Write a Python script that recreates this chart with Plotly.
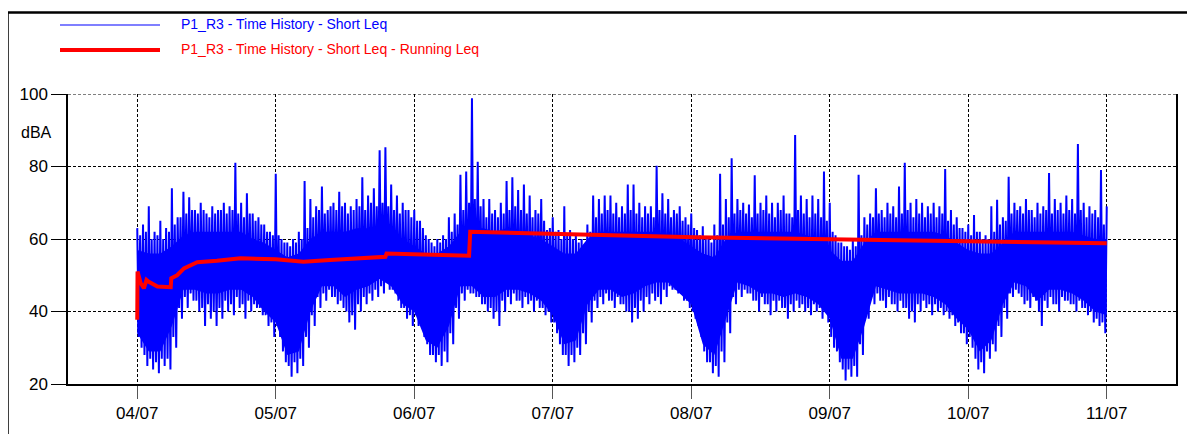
"""Short Leq time history with running Leq (P1_R3)."""
import pandas as pd
import plotly.graph_objects as go

START = pd.Timestamp("2023-07-04")

# hourly upper extents (spikes) of the short Leq trace (dBA), 04/07 00:00 .. 11/07 00:00
up_env = [
    63, 64, 69, 62, 65, 63, 74, 66, 73, 71.5, 68, 70, 67, 69, 68, 70, 69, 81, 70, 72.6, 67, 66, 64, 62,
    78, 60, 59, 60, 62, 76, 71, 69, 74.5, 68, 70, 73, 70, 69, 71, 77, 72, 74, 84.5, 85.3, 75, 72, 70, 68,
    68, 65, 61, 59, 60, 61, 66, 67, 77.7, 78.6, 98.8, 81.3, 71, 71, 68, 70, 76, 77, 73.5, 75, 72, 68, 71, 62.5,
    66, 62.5, 69, 62.5, 61.5, 60, 64, 72, 71, 72, 72, 70, 69, 75, 75, 70, 69, 69, 80.2, 72.6, 71, 68, 69, 66,
    67, 62.5, 63.5, 60.5, 64, 78, 71, 82.3, 71, 70, 69.5, 77.6, 70, 72, 70, 70, 72, 67, 88.7, 72, 71, 72, 71, 78.6,
    70, 61, 59, 58, 60, 77.7, 66, 67, 74, 68, 70, 69, 74.5, 81, 70, 71, 70, 69, 70, 69, 79.3, 68, 66, 63,
    64, 66.6, 62, 61, 69, 70.8, 66, 77.2, 70, 69, 71, 68, 70, 69, 78.2, 71, 70, 72, 71, 86.2, 70, 69, 68, 79,
    69,
]
# hourly lower extents
dn_env = [
    30, 25, 24, 23, 25, 24, 30, 38, 41, 43, 40, 36, 38, 36, 38, 40, 39, 41, 38, 40, 41, 39, 36, 33,
    33, 26, 22, 23, 25, 30, 36, 41, 43, 44, 42, 41, 37, 35, 40, 42, 43, 44, 45, 46, 45, 41, 38, 36,
    36, 33, 28, 26, 25, 26, 31, 38, 43, 45, 44, 42, 40, 38, 36, 40, 42, 43, 41, 42, 40, 41, 39, 37,
    34, 28, 25, 26, 28, 31, 37, 41, 42, 43, 41, 42, 40, 37, 38, 40, 42, 43, 42, 44, 46, 45, 43, 41,
    38, 33, 26, 23, 22, 26, 34, 42, 44, 45, 43, 40, 42, 39, 40, 41, 38, 40, 41, 40, 39, 40, 38, 37,
    30, 26, 21, 22, 22, 28, 38, 42, 43, 41, 42, 40, 41, 38, 37, 40, 41, 39, 40, 39, 38, 36, 34, 31,
    30, 24, 23, 27, 29, 33, 38, 44, 45, 42, 41, 43, 36, 41, 42, 40, 43, 42, 40, 41, 39, 37, 36, 34,
]
# hourly top / bottom of the dense part of the trace
up_dense = [
    61, 62, 60, 61, 60, 62, 64, 66, 67, 68, 67, 68, 66, 67, 68, 67, 68, 67, 66, 67, 65, 64, 62, 61,
    61, 59, 58, 59, 60, 63, 66, 68, 67, 69, 68, 69, 67, 68, 69, 68, 70, 69, 70, 69, 68, 67, 68, 66,
    65, 63, 60, 58, 59, 60, 62, 64, 68, 70, 71, 69, 66, 67, 66, 67, 68, 69, 68, 67, 66, 67, 65, 63,
    62, 60, 61, 60, 59, 58, 62, 66, 67, 68, 67, 66, 67, 68, 67, 66, 67, 66, 68, 67, 66, 67, 65, 64,
    63, 61, 60, 59, 61, 64, 66, 67, 68, 67, 66, 67, 68, 67, 66, 68, 67, 66, 68, 67, 66, 67, 66, 65,
    62, 59, 58, 57, 58, 61, 64, 66, 67, 66, 67, 66, 67, 68, 66, 67, 66, 67, 66, 67, 65, 64, 63, 62,
    61, 62, 60, 60, 62, 64, 65, 67, 68, 67, 68, 66, 67, 68, 67, 68, 67, 68, 67, 68, 66, 67, 66, 64,
]
dn_dense = [
    33, 28, 27, 26, 27, 27, 33, 41, 44, 45, 43, 41, 42, 40, 41, 43, 42, 44, 42, 43, 42, 41, 39, 37,
    36, 29, 25, 26, 27, 33, 39, 44, 45, 46, 44, 43, 40, 39, 42, 44, 45, 46, 47, 48, 46, 43, 41, 39,
    39, 36, 31, 28, 28, 29, 34, 41, 45, 46, 45, 44, 42, 41, 40, 43, 44, 45, 43, 44, 43, 43, 41, 40,
    37, 31, 28, 28, 30, 34, 40, 43, 44, 45, 43, 44, 42, 40, 41, 43, 44, 45, 44, 46, 47, 46, 45, 43,
    40, 36, 29, 26, 25, 29, 37, 44, 46, 46, 45, 43, 44, 42, 43, 43, 41, 42, 43, 42, 41, 42, 41, 40,
    33, 29, 24, 24, 25, 31, 40, 44, 45, 43, 44, 42, 43, 41, 40, 42, 43, 42, 42, 41, 40, 39, 37, 34,
    33, 27, 26, 29, 31, 36, 41, 45, 46, 44, 43, 44, 40, 43, 44, 42, 44, 43, 42, 43, 41, 40, 38, 37,
]
# solid core of the band, every 2 hours
core_hi = [
    57, 56, 56, 58, 61, 62, 62, 62, 62, 62, 60, 59,
    57, 55, 56, 60, 62, 62, 62, 63, 63, 63, 62, 60,
    58, 56, 56, 58, 62, 63, 63, 62, 63, 62, 61, 60,
    58, 56, 56, 60, 62, 62, 62, 62, 62, 62, 61, 60,
    58, 56, 55, 60, 62, 62, 62, 62, 62, 62, 61, 60,
    57, 54, 54, 59, 62, 62, 62, 62, 62, 62, 61, 59,
    57, 56, 56, 59, 62, 62, 62, 62, 62, 62, 61, 60,
    60,
]
core_lo = [
    34, 29, 29, 36, 46, 46, 45, 45, 46, 46, 44, 40,
    37, 28, 29, 40, 47, 47, 44, 46, 47, 49, 47, 42,
    40, 32, 30, 36, 47, 47, 44, 44, 46, 46, 45, 43,
    39, 31, 32, 42, 46, 46, 44, 45, 47, 48, 48, 45,
    42, 31, 28, 38, 48, 47, 45, 45, 44, 45, 44, 42,
    38, 27, 27, 36, 47, 46, 45, 45, 45, 44, 42, 38,
    35, 29, 32, 42, 48, 47, 43, 46, 46, 45, 43, 40,
    39,
]
# running Leq
run_hours = [0, 0.05, 0.6, 1.15, 1.6, 2.0, 3.5, 5.8, 5.9, 6.9, 8.1, 10.4, 13.8, 17.9, 24, 28.8,
             33.4, 39.2, 43.0, 43.2, 49, 57.5, 57.7, 75.3, 96.7, 120, 144, 168]
run_leq = [37.7, 51, 47.8, 46.4, 48.7, 48.2, 46.9, 46.7, 49.2, 50, 51.9, 53.6, 54, 54.7, 54.4, 53.7,
           54.2, 54.7, 55.1, 56, 55.8, 55.4, 62, 61.3, 60.5, 59.9, 59.3, 58.8]

BLUE = "#0000FF"
RED = "#FF0000"


def at(hours):
    return [START + pd.Timedelta(hours=h) for h in hours]


# trace path: spike top at :00, dense bottom at :15, dense top at :30, low extent at :45
zz_h, zz_v = [], []
for i in range(len(dn_env)):
    zz_h += [i, i + 0.25, i + 0.5, i + 0.75]
    zz_v += [up_env[i], dn_dense[i], up_dense[i], dn_env[i]]
zz_h.append(len(dn_env))
zz_v.append(up_env[-1])

core_h = list(range(0, 2 * len(core_hi), 2))

fig = go.Figure()
fig.add_trace(go.Scatter(
    x=at(core_h + core_h[::-1]), y=core_hi + core_lo[::-1],
    fill="toself", fillcolor=BLUE, line=dict(width=0), mode="lines",
    showlegend=False, hoverinfo="skip",
))
fig.add_trace(go.Scatter(
    x=at(zz_h), y=zz_v, mode="lines", line=dict(color=BLUE, width=2),
    name="P1_R3 - Time History - Short Leq", showlegend=False,
))
fig.add_trace(go.Scatter(
    x=at(run_hours), y=run_leq, mode="lines", line=dict(color=RED, width=4),
    name="P1_R3 - Time History - Short Leq - Running Leq", showlegend=False,
))

# page body adds an 8px offset, margins are set so the plot lands where the reference has it
W, H = 1195, 434
ML, MR, MT, MB = 60, 27, 86, 58
pw, ph = W - ML - MR, H - MT - MB
OFF = 8


def px(x):
    # x in screenshot pixels -> paper
    return (x - OFF - ML) / pw


def py(y):
    return (H - MB - (y - OFF)) / ph


shapes = [
    # outer frame
    dict(type="rect", xref="paper", yref="paper", x0=px(7.5), x1=px(1215), y0=py(12.5), y1=py(460),
         line=dict(color="black", width=2.5)),
    # top gridline at 100
    dict(type="line", xref="paper", yref="y", x0=0, x1=1, y0=100, y1=100,
         line=dict(color="black", width=1, dash="3px,2px")),
    # legend samples
    dict(type="line", xref="paper", yref="paper", x0=px(60), x1=px(160), y0=py(25), y1=py(25),
         line=dict(color=BLUE, width=1.2)),
    dict(type="line", xref="paper", yref="paper", x0=px(60), x1=px(160), y0=py(50), y1=py(50),
         line=dict(color=RED, width=4)),
]
annotations = [
    dict(text="P1_R3 - Time History - Short Leq", xref="paper", yref="paper", x=px(179), y=py(24),
         xanchor="left", yanchor="middle", showarrow=False, font=dict(size=14, color=BLUE)),
    dict(text="P1_R3 - Time History - Short Leq - Running Leq", xref="paper", yref="paper", x=px(179), y=py(49),
         xanchor="left", yanchor="middle", showarrow=False, font=dict(size=14, color=RED)),
    dict(text="dBA", xref="paper", yref="paper", x=px(54), y=py(132), xanchor="right", yanchor="middle",
         showarrow=False, font=dict(size=16, color="black")),
]

fig.update_layout(
    width=W, height=H, autosize=False,
    margin=dict(l=ML, r=MR, t=MT, b=MB),
    paper_bgcolor="white", plot_bgcolor="white",
    font=dict(family="Liberation Sans, Arial", size=17, color="black"),
    shapes=shapes, annotations=annotations,
    showlegend=False, hovermode=False,
)
fig.update_xaxes(
    type="date", range=["2023-07-03 12:00", "2023-07-11 12:00"],
    tick0="2023-07-04", dtick=86400000, tickformat="%d/%m",
    showgrid=True, gridcolor="black", gridwidth=1, griddash="3px,2px",
    ticks="outside", ticklen=13, tickcolor="#555", tickwidth=1,
    showline=True, linecolor="black", linewidth=1.5, zeroline=False,
)
fig.update_yaxes(
    range=[20, 100], tick0=20, dtick=20,
    showgrid=True, gridcolor="black", gridwidth=1, griddash="3px,2px",
    ticks="outside", ticklen=15, tickcolor="black", tickwidth=1,
    showline=True, mirror=True, linecolor="black", linewidth=1.5, zeroline=False,
)

fig.write_html("out.html")
